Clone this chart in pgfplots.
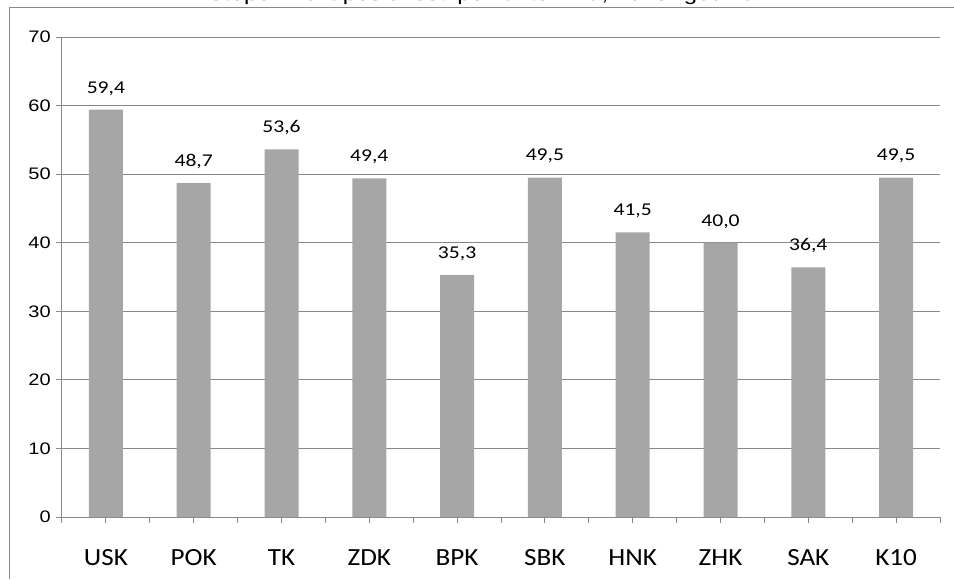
\documentclass[border=0pt]{standalone}
\usepackage{pgfplots}
\pgfplotsset{compat=1.18}
\usepackage{fontspec}
\setmainfont{Liberation Sans}
\newfontfamily\arifont{Liberation Sans}[FakeStretch=1.2]
\newfontfamily\calfont{Carlito}[FakeStretch=1.2]
\newfontfamily\calxfont{Carlito}[FakeStretch=1.1]
\definecolor{barg}{RGB}{166,166,166}
\definecolor{gridg}{RGB}{136,136,136}

\begin{document}
\begin{tikzpicture}
\begin{axis}[
    at={(0,0)}, anchor=south west,
    scale only axis,
    width=658.5pt, height=360pt,
    xmin=0, xmax=10,
    ymin=0, ymax=70,
    ytick={0,10,...,70},
    xtick={0,1,...,10},
    xticklabels={},
    extra x ticks={0.5,1.5,...,9.5},
    extra x tick labels={USK,POK,TK,ZDK,BPK,SBK,HNK,ZHK,SAK,K10},
    extra x tick style={draw=none, xmajorgrids=false},
    axis x line*=bottom,
    axis y line*=left,
    axis line style={gridg, line width=0.75pt},
    ymajorgrids,
    grid style={gridg, line width=0.75pt},
    every tick/.append style={gridg, line width=0.75pt},
    tick align=outside,
    major tick length=4.5pt,
    /pgf/number format/assume math mode=true,
    y tick label style={font=\arifont\fontsize{12.5}{13}\selectfont, anchor=east, inner sep=0pt, xshift=-3.75pt},
    x tick label style={font=\calxfont\fontsize{18.5}{20}\selectfont, anchor=base, yshift=-32pt},
    ybar,
    bar width=25.5pt,
    nodes near coords={\pgfmathprintnumber[fixed,fixed zerofill,precision=1,use comma,assume math mode=true]{\pgfplotspointmeta}},
    nodes near coords style={font=\calfont\fontsize{13.5}{14}\selectfont, anchor=base, yshift=12.5pt, inner sep=0pt},
]
\addplot[fill=barg, draw=none] coordinates {
    (0.5,59.4) (1.5,48.7) (2.5,53.6) (3.5,49.4) (4.5,35.3)
    (5.5,49.5) (6.5,41.5) (7.5,40.0) (8.5,36.4) (9.5,49.5)
};
\end{axis}
\draw[gridg, line width=0.75pt] (-39pt,-46.5pt) -- (-39pt,381.75pt) -- (669pt,381.75pt);
\node[font=\arifont\fontsize{15}{16}\selectfont, anchor=base] at (315pt,387pt) {Stepen nezaposlenosti po kantonima, 2013. godina};
\pgfresetboundingbox
\useasboundingbox (-46.5pt,-46.5pt) rectangle (669pt,387.75pt);
\end{tikzpicture}
\end{document}
